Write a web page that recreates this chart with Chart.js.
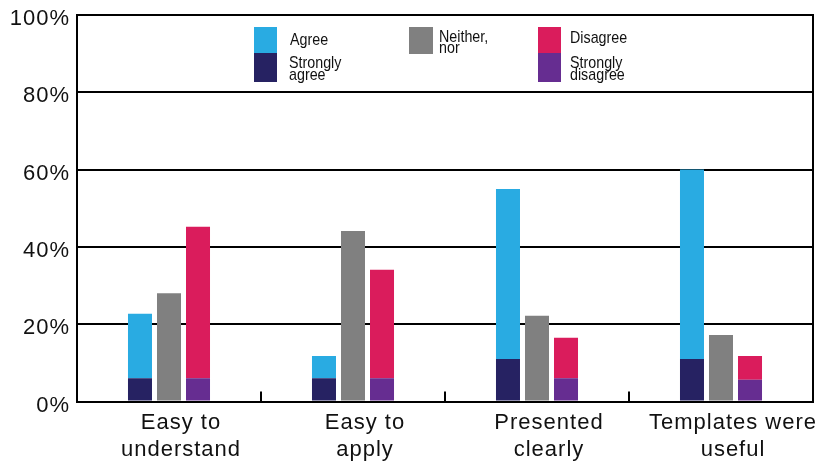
<!DOCTYPE html>
<html>
<head>
<meta charset="utf-8">
<script src="https://cdn.jsdelivr.net/npm/chart.js@4/dist/chart.umd.min.js"></script>
<style>
  html, body { margin: 0; padding: 0; background: #ffffff; }
  #wrap { width: 818px; height: 463px; }
</style>
</head>
<body>
<div id="wrap"><canvas id="chart" width="818" height="463"></canvas></div>
<script>
// Survey responses per statement, in percent of respondents
const categories = [["Easy to", "understand"], ["Easy to", "apply"], ["Presented", "clearly"], ["Templates were", "useful"]];
const stronglyAgree    = [6, 6, 11, 11];
const agree            = [16.7, 5.8, 44, 49];
const neither          = [28, 44.1, 22.2, 17.2];
const stronglyDisagree = [6, 6, 6, 5.6];
const disagree         = [39.2, 28.1, 10.5, 6.2];
const yTicks = [0, 20, 40, 60, 80, 100];

const COLORS = {
  agree: '#29ABE2',
  stronglyAgree: '#262262',
  neither: '#808080',
  disagree: '#DA1C5C',
  stronglyDisagree: '#662D91'
};

const FONT = "'Liberation Sans', Arial, sans-serif";

// Legend placement inside the plot, relative to the chart area's top-left corner
const legendLayout = [
  { dataset: 1, box: [177, 12, 23, 26], text: [213, [30]],         lines: ['Agree'] },
  { dataset: 0, box: [177, 38, 23, 29], text: [212, [52.5, 64.5]], lines: ['Strongly', 'agree'] },
  { dataset: 2, box: [332, 12, 24, 27], text: [362, [26.7, 38.3]], lines: ['Neither,', 'nor'] },
  { dataset: 4, box: [461, 12, 23, 26], text: [493, [28.3]],       lines: ['Disagree'] },
  { dataset: 3, box: [461, 38, 23, 29], text: [493, [52.5, 64.5]], lines: ['Strongly', 'disagree'] }
];
const LEGEND_FONT_SIZE = 17;
const LEGEND_SQUEEZE = 0.84;

const textSpacing = {
  id: 'textSpacing',
  beforeUpdate(chart) { chart.ctx.letterSpacing = '1px'; },
  beforeDraw(chart) { chart.ctx.letterSpacing = '1px'; }
};

const frameAndLegend = {
  id: 'frameAndLegend',
  beforeDatasetsDraw(chart) {
    const { ctx, chartArea: a, scales: { x } } = chart;
    ctx.save();
    ctx.strokeStyle = '#000';
    ctx.lineWidth = 2;
    // right edge of the frame
    ctx.beginPath();
    ctx.moveTo(a.right, a.top - 1);
    ctx.lineTo(a.right, a.bottom + 1);
    ctx.stroke();
    // small inward ticks between categories
    for (let i = 1; i < categories.length; i++) {
      const px = Math.round(x.getPixelForValue(i - 0.5));
      ctx.beginPath();
      ctx.moveTo(px, a.bottom);
      ctx.lineTo(px, a.bottom - 10);
      ctx.stroke();
    }
    ctx.restore();
  },
  afterDatasetsDraw(chart) {
    const { ctx, chartArea: a } = chart;
    ctx.save();
    ctx.letterSpacing = '0px';
    ctx.font = LEGEND_FONT_SIZE + 'px ' + FONT;
    ctx.textAlign = 'left';
    ctx.textBaseline = 'alphabetic';
    legendLayout.forEach(item => {
      const ds = chart.data.datasets[item.dataset];
      const [bx, by, bw, bh] = item.box;
      ctx.fillStyle = ds.backgroundColor;
      ctx.fillRect(a.left + bx, a.top + by, bw, bh);
      ctx.fillStyle = '#111';
      item.lines.forEach((line, k) => {
        ctx.save();
        ctx.translate(a.left + item.text[0], a.top + item.text[1][k]);
        ctx.scale(LEGEND_SQUEEZE, 1);
        ctx.fillText(line, 0, 0);
        ctx.restore();
      });
    });
    ctx.restore();
  }
};

new Chart(document.getElementById('chart'), {
  type: 'bar',
  data: {
    labels: categories,
    datasets: [
      { label: 'Strongly agree', data: stronglyAgree, backgroundColor: COLORS.stronglyAgree, stack: 'agree' },
      { label: 'Agree', data: agree, backgroundColor: COLORS.agree, stack: 'agree' },
      { label: 'Neither, nor', data: neither, backgroundColor: COLORS.neither, stack: 'neither' },
      { label: 'Strongly disagree', data: stronglyDisagree, backgroundColor: COLORS.stronglyDisagree, stack: 'disagree' },
      { label: 'Disagree', data: disagree, backgroundColor: COLORS.disagree, stack: 'disagree' }
    ]
  },
  options: {
    responsive: false,
    devicePixelRatio: 1,
    animation: false,
    categoryPercentage: 0.473,
    barPercentage: 0.8276,
    layout: { padding: { top: 15, right: 5, left: 0, bottom: 0 } },
    plugins: {
      legend: { display: false },
      tooltip: { enabled: false }
    },
    scales: {
      x: {
        stacked: true,
        offset: true,
        grid: { display: false },
        border: { display: true, color: '#000', width: 2 },
        ticks: {
          color: '#111',
          font: { family: FONT, size: 22, lineHeight: 1.27 },
          padding: -1,
          labelOffset: 12,
          maxRotation: 0,
          autoSkip: false
        },
        afterFit(scale) {
          scale.height = 61.5;
          scale.paddingLeft = 0;
          scale.paddingRight = 0;
        }
      },
      y: {
        stacked: true,
        min: yTicks[0],
        max: yTicks[yTicks.length - 1],
        afterBuildTicks(scale) { scale.ticks = yTicks.map(v => ({ value: v })); },
        grid: { color: '#000', lineWidth: 2, drawTicks: false },
        border: { display: true, color: '#000', width: 2 },
        ticks: {
          color: '#111',
          font: { family: FONT, size: 22 },
          padding: 7,
          labelOffset: 4,
          callback: v => v + '%'
        },
        afterFit(scale) {
          scale.width = 77;
          scale.paddingTop = 0;
          scale.paddingBottom = 0;
        }
      }
    }
  },
  plugins: [textSpacing, frameAndLegend]
});
</script>
</body>
</html>
